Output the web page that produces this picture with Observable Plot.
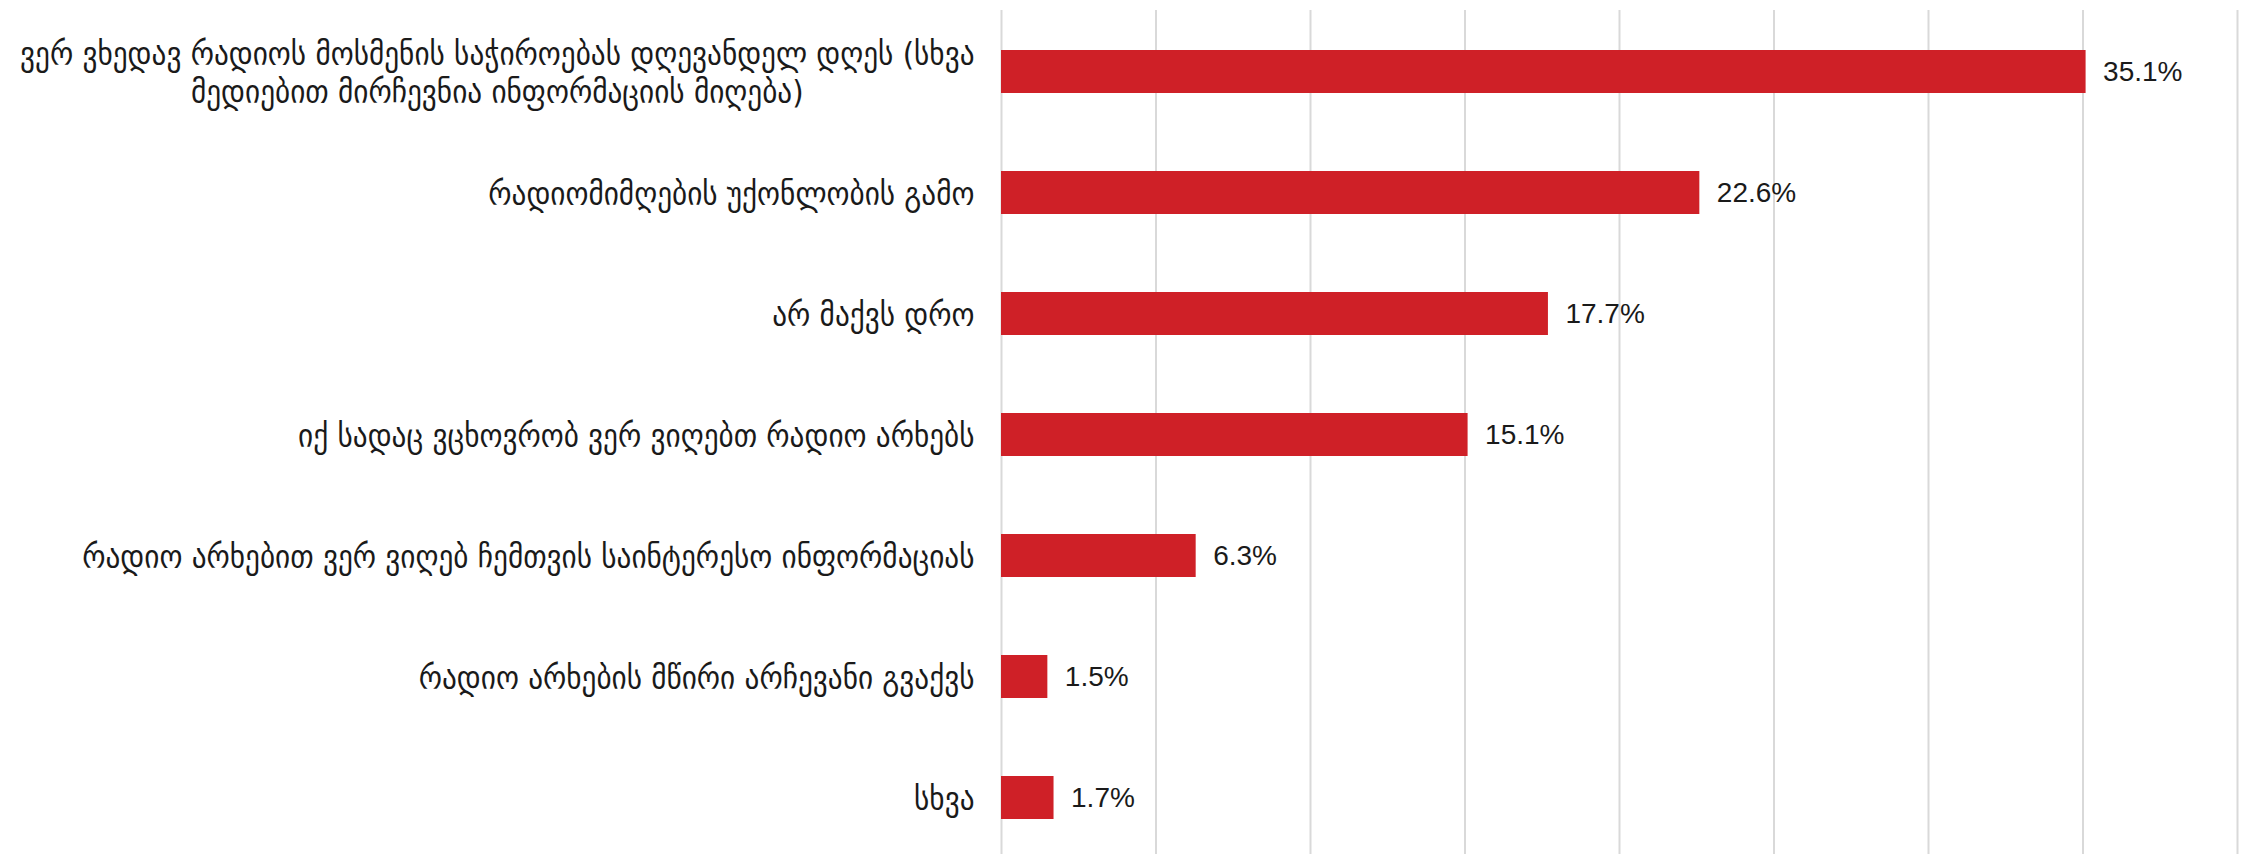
<!DOCTYPE html>
<html>
<head>
<meta charset="utf-8">
<script src="https://cdn.jsdelivr.net/npm/d3@7"></script>
<script src="https://cdn.jsdelivr.net/npm/@observablehq/plot@0.6"></script>
<style>
  html, body { margin: 0; padding: 0; background: #fff; overflow: hidden; }
  #chart svg { display: block; }
</style>
</head>
<body>
<div id="chart"></div>
<script>
// ---- data ----
const categories = [
  "ვერ ვხედავ რადიოს მოსმენის საჭიროებას დღევანდელ დღეს (სხვა\nმედიებით მირჩევნია ინფორმაციის მიღება)",
  "რადიომიმღების უქონლობის გამო",
  "არ მაქვს დრო",
  "იქ სადაც ვცხოვრობ ვერ ვიღებთ რადიო არხებს",
  "რადიო არხებით ვერ ვიღებ ჩემთვის საინტერესო ინფორმაციას",
  "რადიო არხების მწირი არჩევანი გვაქვს",
  "სხვა"
];
const values = [35.1, 22.6, 17.7, 15.1, 6.3, 1.5, 1.7];
const gridTicks = [0, 5, 10, 15, 20, 25, 30, 35, 40];

const rows = categories.map((c, i) => ({category: c, value: values[i]}));

const labelFont = "'DejaVu Sans Condensed', 'DejaVu Sans', sans-serif";
const valueFont = "'Liberation Sans', Arial, sans-serif";

const chart = Plot.plot({
  width: 2252,
  height: 859,
  marginTop: 10,
  marginBottom: 0,
  marginLeft: 1001,
  marginRight: 15,
  style: {background: "#fff", color: "#1a1a1a"},
  x: {domain: [0, 40], axis: null},
  y: {domain: categories, paddingInner: 0.646, paddingOuter: 0.323, label: null},
  marks: [
    Plot.ruleX(gridTicks, {stroke: "#d9d9d9", strokeWidth: 2}),
    Plot.barX(rows, {x: "value", y: "category", fill: "#cf2027"}),
    Plot.text(rows, {
      x: "value", y: "category",
      text: d => d.value.toFixed(1) + "%",
      textAnchor: "start", dx: 17,
      fontSize: 28, fontFamily: valueFont, fill: "#1a1a1a"
    }),
    Plot.axisY({
      tickSize: 0, tickPadding: 27, label: null,
      fontSize: 32.5, fontFamily: labelFont, lineHeight: 1.17, fill: "#1a1a1a"
    })
  ]
});
document.getElementById("chart").appendChild(chart);

// Center the lines of a wrapped category label within its block (Excel style)
d3.select(chart).selectAll('g[aria-label="y-axis tick label"] text').each(function() {
  const spans = this.querySelectorAll("tspan");
  if (spans.length < 2) return;
  let w = 0;
  spans.forEach(s => { w = Math.max(w, s.getComputedTextLength()); });
  this.setAttribute("text-anchor", "middle");
  spans.forEach(s => s.setAttribute("x", -w / 2));
});
</script>
</body>
</html>
